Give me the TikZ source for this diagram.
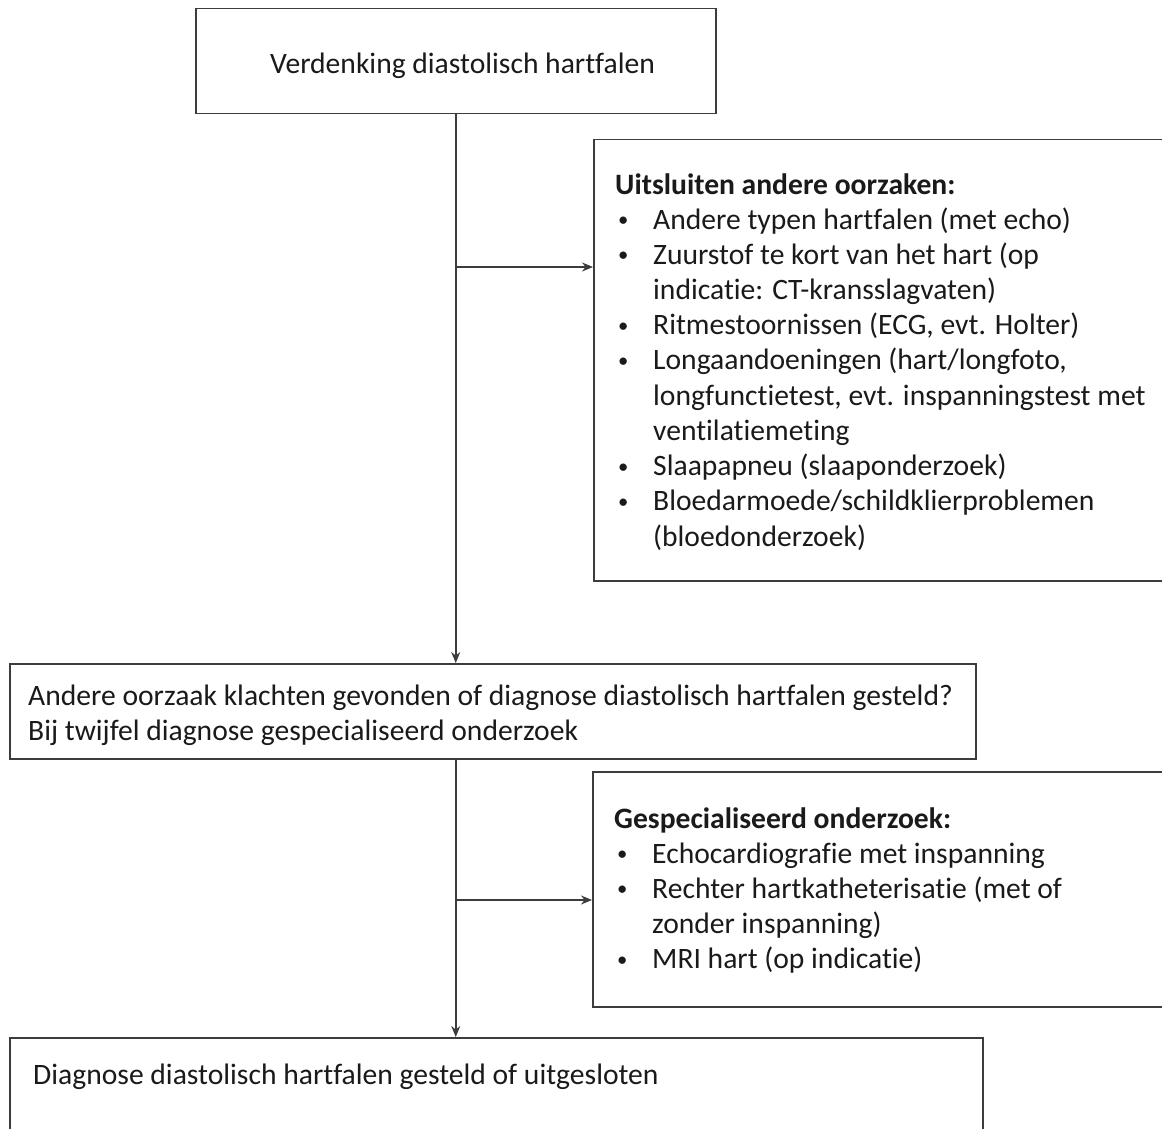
\documentclass[tikz,border=0pt]{standalone}
\usepackage{fontspec}
\setmainfont{Carlito}[Ligatures=NoCommon]
\usetikzlibrary{arrows.meta}
\definecolor{linegray}{HTML}{3C3C3C}
\definecolor{inkc}{HTML}{1A1A1A}
\newcommand{\bul}{\makebox[38pt][l]{\hspace*{3pt}\raisebox{2.5pt}{\scalebox{0.7}{•}}}}
\newcommand{\hang}{\hspace*{38pt}}
\tikzset{
  boxnode/.style={draw=linegray, line width=1.5pt, fill=white, rectangle, anchor=north west, inner sep=0pt},
  txt/.style={anchor=base west, inner sep=0pt, text=inkc, font=\fontsize{29.6}{35.2}\selectfont},
  conn/.style={draw=linegray, line width=1.5pt},
  arr/.style={conn, -{Stealth[length=11pt,width=9pt]}}
}
\begin{document}
\begin{tikzpicture}[x=1pt,y=-1pt]
\useasboundingbox (0,0) rectangle (1162,1129);
\clip (0,0) rectangle (1162,1129);
\fill[white] (0,0) rectangle (1162,1129);
% boxes
\node[boxnode, minimum width=520pt, minimum height=105pt] (b1) at (195,8) {};
\node[boxnode, minimum width=600pt, minimum height=441pt] (b2) at (593,139) {};
\node[boxnode, minimum width=966pt, minimum height=95pt] (b3) at (9,663) {};
\node[boxnode, minimum width=600pt, minimum height=235pt] (b4) at (592,771) {};
\node[boxnode, minimum width=973pt, minimum height=120pt] (b5) at (9,1037) {};
% texts
\node[txt] (t1) at (270,74) {Verdenking diastolisch hartfalen};
\node[txt] (t2) at (615,194) {\begin{tabular}[t]{@{}l@{}}
\textbf{Uitsluiten andere oorzaken:}\\
\bul Andere typen hartfalen (met echo)\\
\bul Zuurstof te kort van het hart (op\\
\hang indicatie: CT-kransslagvaten)\\
\bul Ritmestoornissen (ECG, evt. Holter)\\
\bul Longaandoeningen (hart/longfoto,\\
\hang longfunctietest, evt. inspanningstest met\\
\hang ventilatiemeting\\
\bul Slaapapneu (slaaponderzoek)\\
\bul Bloedarmoede/schildklierproblemen\\
\hang (bloedonderzoek)
\end{tabular}};
\node[txt] (t3) at (28,705) {\begin{tabular}[t]{@{}l@{}}
Andere oorzaak klachten gevonden of diagnose diastolisch hartfalen gesteld?\\
Bij twijfel diagnose gespecialiseerd onderzoek
\end{tabular}};
\node[txt] (t4) at (614,828) {\begin{tabular}[t]{@{}l@{}}
\textbf{Gespecialiseerd onderzoek:}\\
\bul Echocardiografie met inspanning\\
\bul Rechter hartkatheterisatie (met of\\
\hang zonder inspanning)\\
\bul MRI hart (op indicatie)
\end{tabular}};
\node[txt] (t5) at (33,1084) {Diagnose diastolisch hartfalen gesteld of uitgesloten};
% connectors
\coordinate (j1) at (455,267);
\coordinate (j2) at (455,900);
\draw[arr] (b1.south) -- (b1.south |- b3.north);
\draw[arr] (j1) -- (j1 -| b2.west);
\draw[arr] (b1.south |- b3.south) -- (b1.south |- b5.north);
\draw[arr] (j2) -- (j2 -| b4.west);
\end{tikzpicture}
\end{document}
